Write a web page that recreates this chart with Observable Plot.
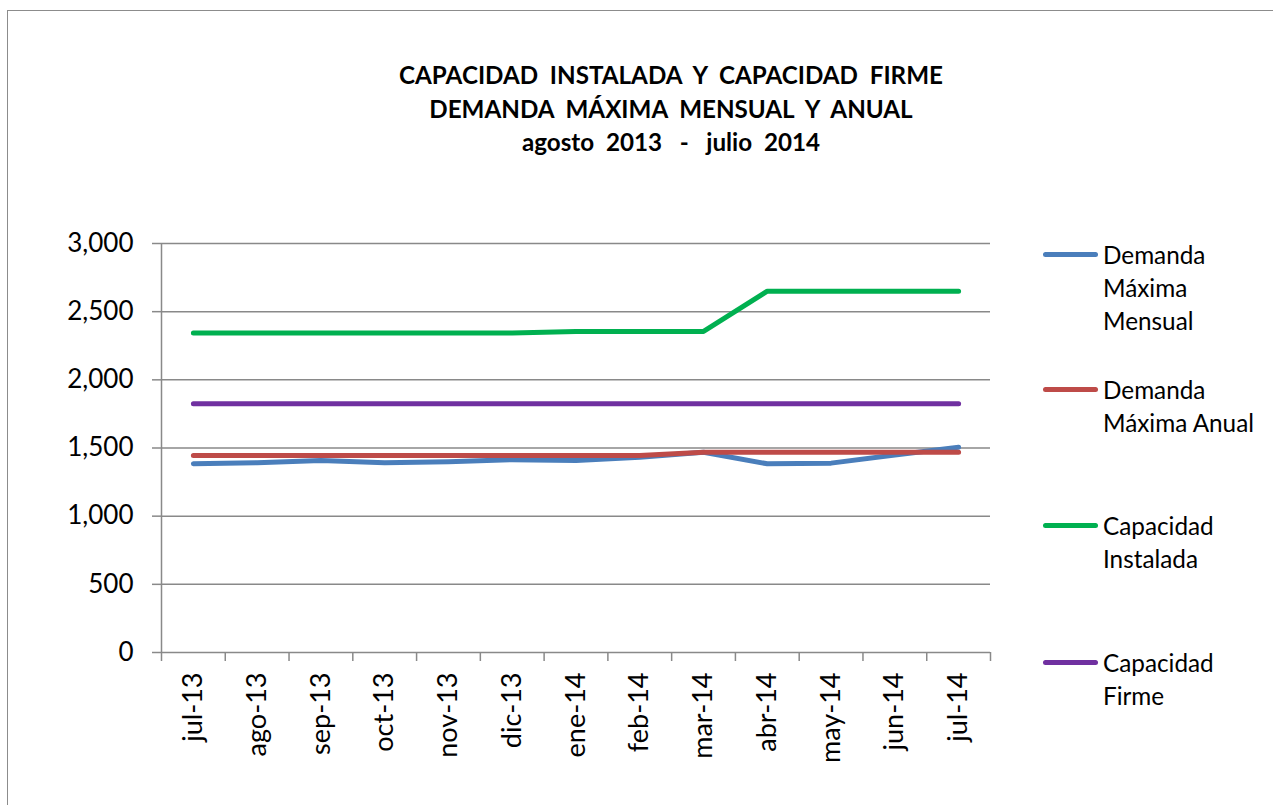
<!DOCTYPE html>
<html><head><meta charset="utf-8">
<script src="https://cdn.jsdelivr.net/npm/d3@7"></script>
<script src="https://cdn.jsdelivr.net/npm/@observablehq/plot@0.6"></script>
<style>
body{margin:0;background:#fff;font-family:Lato,"Open Sans",sans-serif;}
#wrap{position:relative;width:1273px;height:805px;overflow:hidden;background:#fff;}
#frame{position:absolute;left:7px;top:10px;width:1400px;height:1000px;border:1.5px solid #8c8c8c;box-sizing:border-box;}
#title{position:absolute;left:0;width:1342px;top:58px;text-align:center;font-weight:bold;font-size:24.2px;line-height:33.5px;white-space:pre;color:#000;}
#chart{position:absolute;left:0;top:0;}
.lg-sw{position:absolute;height:5px;border-radius:3px;}
.lg-tx{position:absolute;font-size:24.3px;line-height:33px;color:#000;white-space:pre;}
</style>
</head><body>
<div id="wrap">
<div id="frame"></div>
<div id="chart"></div>
<div id="title">CAPACIDAD  INSTALADA  Y  CAPACIDAD  FIRME
DEMANDA  MÁXIMA  MENSUAL  Y  ANUAL
agosto  2013   -   julio  2014</div>
<div id="legend"></div>
</div>
<script>
const months = ["jul-13","ago-13","sep-13","oct-13","nov-13","dic-13","ene-14","feb-14","mar-14","abr-14","may-14","jun-14","jul-14"];
const demandaMaximaMensual = [1384,1392,1408,1392,1399,1414,1408,1433,1469,1384,1389,1448,1506];
const demandaMaximaAnual   = [1445,1445,1445,1445,1445,1445,1445,1445,1469,1469,1469,1469,1469];
const capacidadInstalada   = [2344,2344,2344,2344,2344,2344,2355,2355,2355,2650,2650,2650,2650];
const capacidadFirme       = [1825,1825,1825,1825,1825,1825,1825,1825,1825,1825,1825,1825,1825];
const seriesNames  = ["Demanda Máxima Mensual","Demanda Máxima Anual","Capacidad Instalada","Capacidad Firme"];
const legendLabels = ["Demanda\nMáxima\nMensual","Demanda\nMáxima Anual","Capacidad\nInstalada","Capacidad\nFirme"];
const seriesColors = ["#4A7EBB","#BE4B48","#00B050","#7030A0"];
const seriesValues = [demandaMaximaMensual, demandaMaximaAnual, capacidadInstalada, capacidadFirme];
const yTicks = [0,500,1000,1500,2000,2500,3000];

const rows = seriesNames.flatMap((name, s) => seriesValues[s].map((v, i) => ({serie: name, i, v})));

const chart = Plot.plot({
  width: 1273, height: 805,
  marginLeft: 161, marginRight: 283, marginTop: 243, marginBottom: 153,
  x: {type: "linear", domain: [-0.5, months.length - 0.5], label: null},
  y: {domain: [0, 3000], label: null},
  color: {domain: seriesNames, range: seriesColors},
  style: {fontFamily: "Lato, 'Open Sans', sans-serif", fontSize: "24px", color: "#000", background: "transparent", overflow: "visible"},
  marks: [
    Plot.gridY(yTicks, {stroke: "#898989", strokeOpacity: 1, strokeWidth: 1.5}),
    Plot.ruleX([-0.5], {stroke: "#898989", strokeWidth: 1.5}),
    Plot.axisY({ticks: yTicks, tickFormat: d3.format(","), tickSize: 9, tickPadding: 19, stroke: "#898989", strokeWidth: 1.5, fill: "#000", fontSize: 26, label: null}),
    Plot.axisX({ticks: d3.range(-0.5, months.length, 1), tickSize: 9, tickFormat: () => "", stroke: "#898989", strokeWidth: 1.5, label: null}),
    Plot.axisX({ticks: d3.range(months.length), tickFormat: i => months[i], tickSize: 0, tickPadding: 20, tickRotate: -90, fill: "#000", fontSize: 27, label: null}),
    Plot.lineY(rows, {x: "i", y: "v", z: "serie", stroke: "serie", strokeWidth: 5, strokeLinecap: "round", strokeLinejoin: "round"})
  ]
});
document.getElementById("chart").appendChild(chart);

const legendY = [254, 389, 525, 662];
const legend = document.getElementById("legend");
seriesNames.forEach((name, s) => {
  const sw = document.createElement("div");
  sw.className = "lg-sw";
  sw.style.left = "1043px"; sw.style.width = "55px";
  sw.style.top = (legendY[s] - 2.5) + "px";
  sw.style.background = seriesColors[s];
  legend.appendChild(sw);
  const tx = document.createElement("div");
  tx.className = "lg-tx";
  tx.style.left = "1103px";
  tx.style.top = (legendY[s] - 16.5) + "px";
  tx.textContent = legendLabels[s];
  legend.appendChild(tx);
});
</script>
</body></html>
